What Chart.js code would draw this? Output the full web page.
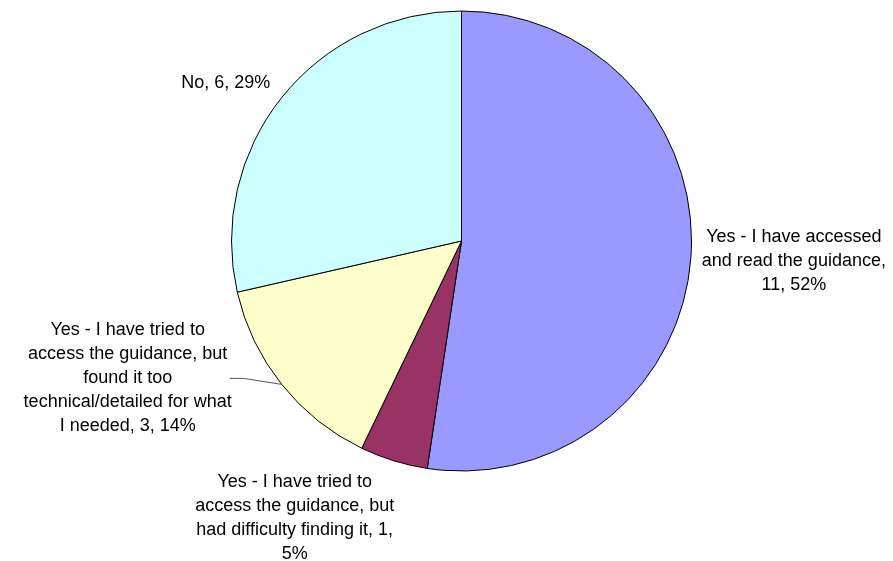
<!DOCTYPE html>
<html>
<head>
<meta charset="utf-8">
<script src="https://cdn.jsdelivr.net/npm/chart.js@4.4.0/dist/chart.umd.min.js"></script>
<style>
  body { margin: 0; background: #fff; }
  canvas { display: block; }
</style>
</head>
<body>
<canvas id="pie" width="893" height="561"></canvas>
<script>
const categories = [
  "Yes - I have accessed and read the guidance",
  "Yes - I have tried to access the guidance, but had difficulty finding it",
  "Yes - I have tried to access the guidance, but found it too technical/detailed for what I needed",
  "No",
];
const counts = [11, 1, 3, 6];
const sliceColors = ["#9999FF", "#993366", "#FFFFCC", "#CCFFFF"];

// where each label block sits, relative to the point on the rim at the slice's mid angle
const labelOffsets = [[103, 3], [-99, 57], [-154, -6], [-56, -15]];
const wrapWidths = [200, 212, 213, 200];
// leader line for the label that sits away from its slice (relative to the rim point)
const leaders = [null, null, [[-38, -6], [-52, -6]], null];

const total = counts.reduce((a, b) => a + b, 0);

function wrapText(ctx, text, maxWidth) {
  const words = text.split(" ");
  const lines = [];
  let line = "";
  words.forEach((w) => {
    const test = line ? line + " " + w : w;
    if (line && ctx.measureText(test).width > maxWidth) {
      lines.push(line);
      line = w;
    } else {
      line = test;
    }
  });
  if (line) lines.push(line);
  return lines;
}

const outsideLabels = {
  id: "outsideLabels",
  afterDraw(chart) {
    const ctx = chart.ctx;
    const meta = chart.getDatasetMeta(0);
    ctx.save();
    ctx.font = "18px 'Liberation Sans', Arial, sans-serif";
    ctx.fillStyle = "#000";
    ctx.textAlign = "center";
    ctx.textBaseline = "middle";
    const lineHeight = 24;

    meta.data.forEach((arc, i) => {
      const mid = (arc.startAngle + arc.endAngle) / 2;
      const ex = arc.x + Math.cos(mid) * arc.outerRadius;
      const ey = arc.y + Math.sin(mid) * arc.outerRadius;

      if (leaders[i]) {
        ctx.strokeStyle = "#555";
        ctx.lineWidth = 1;
        ctx.beginPath();
        ctx.moveTo(ex, ey);
        leaders[i].forEach(([dx, dy]) => ctx.lineTo(ex + dx, ey + dy));
        ctx.stroke();
      }

      const pct = Math.round((counts[i] / total) * 100);
      const text = categories[i] + ", " + counts[i] + ", " + pct + "%";
      const lines = wrapText(ctx, text, wrapWidths[i]);
      const cx = ex + labelOffsets[i][0];
      const cy = ey + labelOffsets[i][1];
      const startY = cy - ((lines.length - 1) * lineHeight) / 2;
      lines.forEach((ln, j) => ctx.fillText(ln, cx, startY + j * lineHeight));
    });
    ctx.restore();
  },
};

new Chart(document.getElementById("pie"), {
  type: "pie",
  data: {
    labels: categories,
    datasets: [
      {
        data: counts,
        backgroundColor: sliceColors,
        borderColor: "#000",
        borderWidth: 1,
      },
    ],
  },
  options: {
    responsive: false,
    animation: false,
    layout: {
      padding: { left: 231, right: 201, top: 10, bottom: 89 },
    },
    plugins: {
      legend: { display: false },
      tooltip: { enabled: false },
    },
  },
  plugins: [outsideLabels],
});
</script>
</body>
</html>
